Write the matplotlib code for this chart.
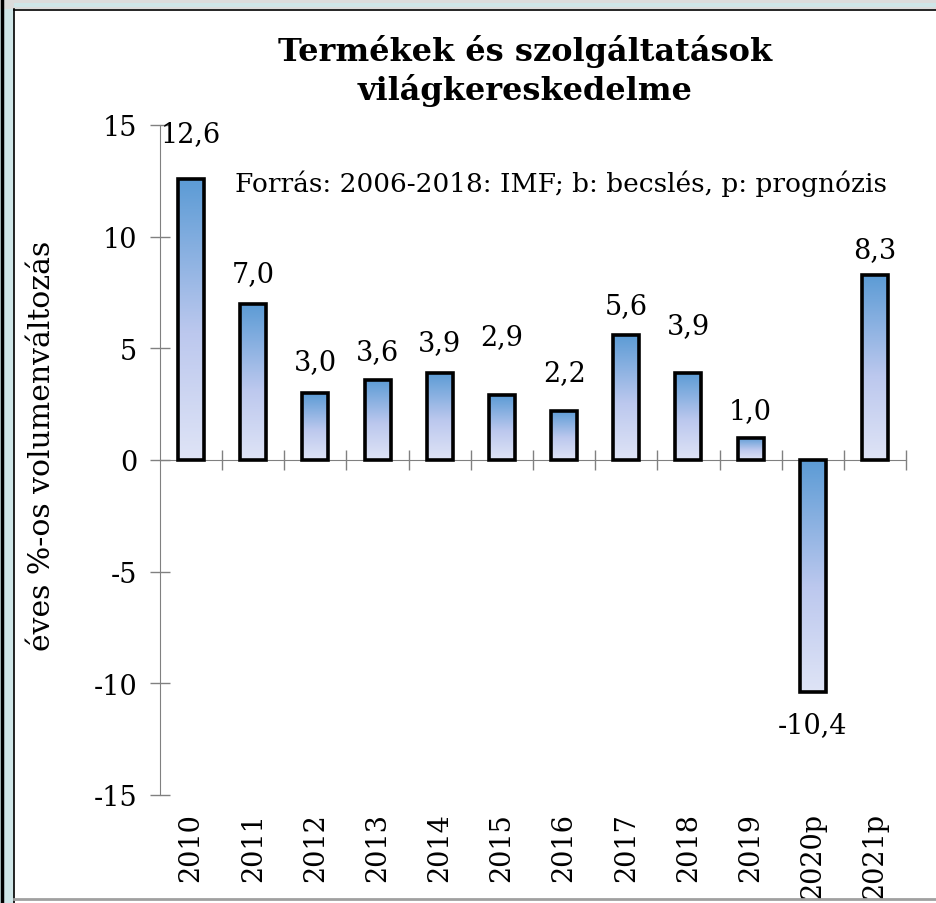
import numpy as np
import matplotlib
matplotlib.use("Agg")
import matplotlib.pyplot as plt
from matplotlib.colors import LinearSegmentedColormap
from matplotlib.patches import Rectangle
from matplotlib.lines import Line2D

# ---- data ----
categories = ['2010', '2011', '2012', '2013', '2014', '2015', '2016',
              '2017', '2018', '2019', '2020p', '2021p']
values = [12.6, 7.0, 3.0, 3.6, 3.9, 2.9, 2.2, 5.6, 3.9, 1.0, -10.4, 8.3]
value_labels = ['12,6', '7,0', '3,0', '3,6', '3,9', '2,9', '2,2',
                '5,6', '3,9', '1,0', '-10,4', '8,3']
y_ticks = [-15, -10, -5, 0, 5, 10, 15]

title = 'Termékek és szolgáltatások\nvilágkereskedelme'
source = 'Forrás: 2006-2018: IMF; b: becslés, p: prognózis'
ylabel = 'éves %-os volumenváltozás'

# label offsets (pixels from bar end to label centre) - layout only
label_gap_px = [45, 30, 31, 28, 30, 59, 38, 29, 47, 27, 32, 25]

plt.rcParams['font.family'] = ['DejaVu Serif']

W, H = 937, 904
fig = plt.figure(figsize=(W / 100, H / 100), dpi=100)
fig.patch.set_facecolor('white')

# decorative frame (left striped strip, top strip, border lines)
fig.add_artist(Rectangle((0, 0), 14 / W, 1, transform=fig.transFigure,
                         facecolor='#cfe6e8', edgecolor='none', hatch='---',
                         zorder=0))
fig.add_artist(Rectangle((0, 1 - 10 / H), 1, 10 / H, transform=fig.transFigure,
                         facecolor='#dcdcdc', edgecolor='none', zorder=0))
fig.add_artist(Rectangle((14 / W, 1 - 8 / H), 1, 4 / H, transform=fig.transFigure,
                         facecolor='#cfe6e8', edgecolor='none', zorder=0))
fig.add_artist(Line2D([2 / W, 2 / W], [0, 1], transform=fig.transFigure,
                      color='black', lw=2.5))
fig.add_artist(Line2D([14.5 / W, 14.5 / W], [0, 1 - 10 / H], transform=fig.transFigure,
                      color='black', lw=1.2))
fig.add_artist(Line2D([14 / W, 1], [1 - 10.5 / H, 1 - 10.5 / H], transform=fig.transFigure,
                      color='black', lw=1.2))
fig.add_artist(Line2D([14 / W, 1], [1 - 900 / H, 1 - 900 / H], transform=fig.transFigure,
                      color='#a0a0a0', lw=2))

ax = fig.add_axes([160 / W, (H - 796) / H, (906 - 160) / W, (796 - 126) / H])
ax.set_facecolor('none')

cmap = LinearSegmentedColormap.from_list(
    'grad', [(0.0, '#DFE4F6'), (0.45, '#BCC8EE'), (1.0, '#5B9BD5')])
grad = np.linspace(0, 1, 256).reshape(-1, 1)
bw = 0.42
for i, v in enumerate(values):
    x0 = i - bw / 2
    lo, hi = min(0, v), max(0, v)
    ax.imshow(grad, extent=[x0, x0 + bw, lo, hi], origin='lower', cmap=cmap,
              aspect='auto', zorder=2, interpolation='bilinear')
    ax.add_patch(Rectangle((x0, lo), bw, hi - lo, fill=False, ec='black',
                           lw=2.6, zorder=3, joinstyle='miter'))
    gap = label_gap_px[i] * 0.72
    ax.annotate(value_labels[i], (i, v), xytext=(0, gap if v >= 0 else -gap),
                textcoords='offset points', ha='center', va='center',
                fontsize=19.5, zorder=4)
    ax.annotate(categories[i], (i, -15), xytext=(0, -12.5),
                textcoords='offset points', ha='center', va='top',
                rotation=90, fontsize=19.5, rotation_mode='default')

ax.set_xlim(-0.5, 11.5)
ax.set_ylim(-15, 15)
ax.set_yticks(y_ticks)
ax.set_yticklabels([str(t) for t in y_ticks])
ax.set_xticks(np.arange(0.5, 12, 1))
ax.tick_params(axis='x', direction='inout', length=14, width=1, color='#808080',
               labelbottom=False)
ax.tick_params(axis='y', direction='inout', length=15, width=1, color='#808080',
               labelsize=19.5, pad=9)
for s in ['top', 'right']:
    ax.spines[s].set_visible(False)
ax.spines['bottom'].set_position(('data', 0))
ax.spines['bottom'].set_color('#808080')
ax.spines['left'].set_color('#808080')
ax.spines['bottom'].set_zorder(1)

fig.text(525 / W, 1 - 71 / H, title, ha='center', va='center', fontsize=23,
         fontweight='bold', linespacing=1.25)
fig.text(235 / W, 1 - 184 / H, source, ha='left', va='center', fontsize=19)
fig.text(42 / W, 1 - 446 / H, ylabel, ha='center', va='center', rotation=90,
         fontsize=21.5)

fig.savefig('out.png', dpi=100)
